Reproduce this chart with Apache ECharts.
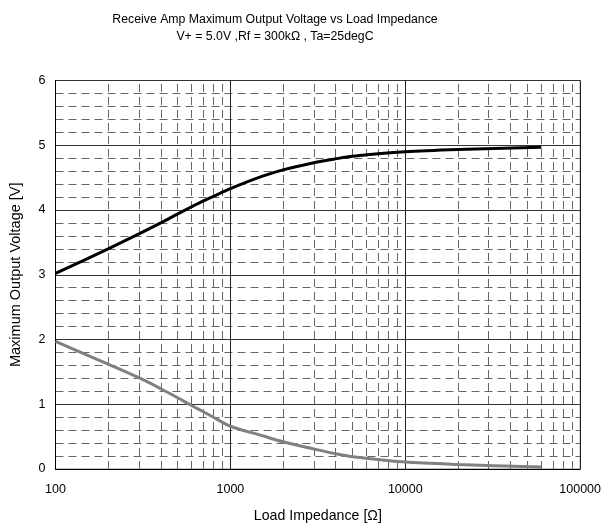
<!DOCTYPE html>
<html>
<head>
<meta charset="utf-8">
<script src="https://cdn.jsdelivr.net/npm/echarts@6/dist/echarts.min.js"></script>
<style>
  html, body { margin: 0; padding: 0; background: #fff; }
  #main { width: 604px; height: 528px; }
</style>
</head>
<body>
<div id="main"></div>
<script>
"use strict";
// load impedance [ohm] and max output voltage [V]
let loadOhms = [100, 200, 300, 400, 500, 600, 700, 800, 1000, 1500, 2000, 3000, 4000, 5000, 10000, 20000, 60000];
let voutHigh = [3.02, 3.40, 3.63, 3.80, 3.94, 4.05, 4.14, 4.21, 4.33, 4.515, 4.62, 4.73, 4.79, 4.83, 4.90, 4.935, 4.97];
let voutLow = [1.97, 1.62, 1.41, 1.24, 1.10, 0.98, 0.885, 0.80, 0.66, 0.52, 0.42, 0.31, 0.235, 0.19, 0.107, 0.07, 0.03];
let xTickLabels = [100, 1000, 10000, 100000];
// minor vertical grid positions (2..9 per decade)
let minorX = [];
for (let d = 100; d < 100000; d *= 10) {
    for (let k = 2; k <= 9; k++) minorX.push(k * d);
}

let font = '"Liberation Sans", Arial, sans-serif';
let myChart = echarts.init(document.getElementById('main'));

function pairs(xs, ys) {
    let out = [];
    for (let i = 0; i < xs.length; i++) out.push([xs[i], ys[i]]);
    return out;
}

let option = {
    animation: false,
    backgroundColor: '#fff',
    title: {
        text: 'Receive Amp Maximum Output Voltage vs Load Impedance\nV+ = 5.0V ,Rf = 300kΩ , Ta=25degC',
        left: 270,
        top: 6,
        textAlign: 'center',
        textStyle: {
            fontFamily: font,
            fontSize: 12.3,
            fontWeight: 'normal',
            color: '#000',
            lineHeight: 17
        }
    },
    grid: {
        left: 55.5,
        right: 22.5,
        top: 80.5,
        bottom: 56,
        show: true,
        borderColor: '#888',
        borderWidth: 1
    },
    xAxis: {
        type: 'log',
        logBase: 10,
        min: 100,
        max: 100000,
        name: 'Load Impedance [Ω]',
        nameLocation: 'middle',
        nameGap: 40,
        nameTextStyle: { fontFamily: font, fontSize: 14.2, color: '#000' },
        axisLine: { lineStyle: { color: '#000', width: 1 } },
        axisTick: { show: false },
        axisLabel: {
            fontFamily: font,
            fontSize: 12.5,
            color: '#000',
            margin: 14,
            formatter: function (v) {
                let r = Math.round(v);
                return xTickLabels.indexOf(r) >= 0 ? String(r) : '';
            }
        },
        splitLine: { show: true, lineStyle: { color: '#222', width: 1 } },
        minorTick: { show: false },
        minorSplitLine: { show: false }
    },
    yAxis: {
        type: 'value',
        min: 0,
        max: 6,
        interval: 1,
        name: 'Maximum Output Voltage [V]',
        nameLocation: 'middle',
        nameGap: 32,
        nameTextStyle: { fontFamily: font, fontSize: 14.5, color: '#000' },
        axisLine: { show: true, lineStyle: { color: '#000', width: 1 } },
        axisTick: { show: false },
        axisLabel: { fontFamily: font, fontSize: 12.5, color: '#000', margin: 10 },
        splitLine: { show: true, lineStyle: { color: '#333', width: 1 } },
        minorTick: { show: false, splitNumber: 5 },
        minorSplitLine: { show: true, lineStyle: { color: '#666', width: 1, type: [8, 5] } }
    },
    series: [
        {
            name: 'minor grid',
            type: 'line',
            data: [],
            silent: true,
            markLine: {
                silent: true,
                symbol: 'none',
                label: { show: false },
                lineStyle: { color: '#666', width: 1, type: [8, 5] },
                data: minorX.map(function (v) { return { xAxis: v }; })
            }
        },
        {
            name: 'High',
            type: 'line',
            smooth: 0.3,
            showSymbol: false,
            lineStyle: { color: '#000', width: 3 },
            data: pairs(loadOhms, voutHigh),
            z: 5
        },
        {
            name: 'Low',
            type: 'line',
            smooth: 0.3,
            showSymbol: false,
            lineStyle: { color: '#808080', width: 3 },
            data: pairs(loadOhms, voutLow),
            z: 5
        }
    ]
};
myChart.setOption(option);
</script>
</body>
</html>
